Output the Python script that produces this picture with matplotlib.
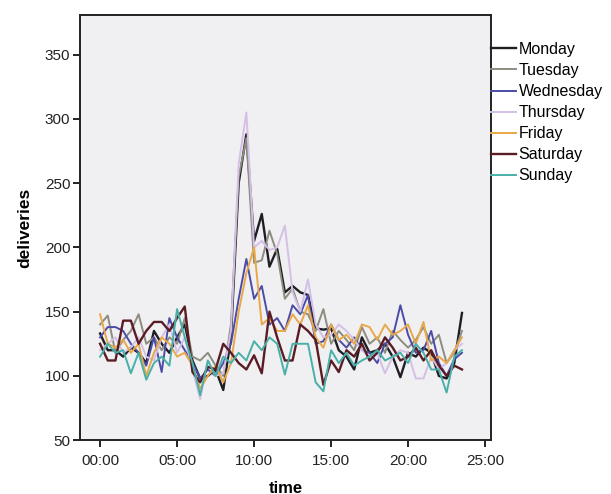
import matplotlib
matplotlib.use("Agg")
import matplotlib.pyplot as plt
import numpy as np

plt.rcParams['font.family'] = ['Liberation Sans', 'DejaVu Sans']

# half-hour slots, 00:00 .. 23:30
times = np.arange(48) * 0.5

days = ["Monday", "Tuesday", "Wednesday", "Thursday", "Friday", "Saturday", "Sunday"]
colors = ["#1e1e24", "#8c8c80", "#4c4ca8", "#d4c0e4", "#e8a848", "#5a1c24", "#48b0a8"]

monday = [133, 120, 120, 115, 122, 118, 110, 135, 125, 118, 130, 140,
          112, 98, 100, 105, 89, 130, 250, 288, 205, 226, 185, 199,
          165, 170, 165, 163, 137, 136, 137, 120, 115, 105, 130, 118,
          120, 125, 115, 99, 118, 115, 122, 118, 100, 98, 110, 149]
tuesday = [140, 147, 118, 128, 135, 148, 125, 130, 120, 130, 125, 145,
           115, 112, 118, 108, 100, 140, 255, 285, 188, 190, 213, 195,
           160, 168, 150, 148, 135, 152, 125, 135, 128, 120, 138, 125,
           130, 118, 135, 128, 122, 128, 138, 125, 132, 110, 118, 135]
wednesday = [130, 138, 138, 135, 125, 118, 108, 130, 103, 145, 130, 120,
             110, 98, 105, 100, 110, 125, 160, 191, 160, 170, 140, 145,
             135, 155, 148, 163, 125, 127, 140, 128, 122, 130, 120, 118,
             110, 125, 130, 155, 132, 118, 120, 135, 110, 100, 113, 118]
thursday = [120, 125, 130, 118, 122, 130, 115, 112, 130, 140, 118, 130,
            105, 82, 112, 100, 102, 135, 265, 305, 200, 205, 198, 200,
            217, 165, 150, 175, 140, 130, 132, 140, 135, 128, 120, 115,
            118, 102, 115, 120, 118, 98, 98, 115, 105, 110, 120, 125]
friday = [148, 125, 122, 128, 118, 125, 100, 118, 130, 125, 115, 118,
          108, 90, 100, 108, 95, 110, 150, 180, 200, 140, 145, 135,
          135, 148, 140, 155, 130, 122, 140, 128, 132, 125, 140, 138,
          128, 140, 132, 135, 140, 125, 142, 112, 115, 110, 120, 130]
saturday = [125, 112, 112, 143, 143, 125, 135, 142, 142, 135, 145, 154,
            103, 95, 107, 105, 125, 118, 110, 105, 116, 102, 150, 130,
            112, 112, 140, 135, 128, 93, 112, 103, 120, 115, 125, 112,
            118, 130, 122, 112, 115, 122, 112, 120, 108, 100, 108, 105]
sunday = [115, 125, 118, 120, 102, 118, 97, 110, 115, 108, 152, 130,
          110, 85, 112, 100, 115, 110, 118, 112, 127, 120, 130, 125,
          101, 125, 125, 125, 95, 88, 120, 110, 118, 108, 112, 115,
          120, 112, 115, 118, 110, 125, 118, 105, 105, 87, 115, 120]

series = [monday, tuesday, wednesday, thursday, friday, saturday, sunday]
widths = [1.7, 1.4, 1.4, 1.4, 1.4, 1.7, 1.4]

xticks = [0, 5, 10, 15, 20, 25]
xtick_labels = ["%02d:00" % h for h in xticks]
yticks = [50, 100, 150, 200, 250, 300, 350]

fig = plt.figure(figsize=(6.11, 4.94), dpi=100)
ax = fig.add_axes([0.131, 0.109, 0.673, 0.861])
ax.set_facecolor("#f0f0f3")

for vals, name, c, lw in zip(series, days, colors, widths):
    ax.plot(times, vals, color=c, lw=lw, label=name)

ax.set_xlim(-1.3, 25.4)
ax.set_ylim(50, 381)
ax.set_xticks(xticks)
ax.set_xticklabels(xtick_labels)
ax.set_yticks(yticks)
ax.tick_params(direction="out", length=5, width=1.4, labelsize=11, colors="#222222")
ax.tick_params(axis="x", pad=5)
ax.tick_params(axis="y", pad=2)
for s in ax.spines.values():
    s.set_linewidth(1.4)
    s.set_color("#222222")

ax.set_xlabel("time", fontsize=12, fontweight="bold", labelpad=9)
ax.set_ylabel("deliveries", fontsize=12.5, fontweight="bold", labelpad=9)

fig.legend(loc="upper left", bbox_to_anchor=(0.803, 0.915), frameon=False,
           fontsize=11.5, handlelength=1.6, handletextpad=0.15,
           labelspacing=0.38, borderaxespad=0, borderpad=0)

fig.savefig("out.png", dpi=100)
